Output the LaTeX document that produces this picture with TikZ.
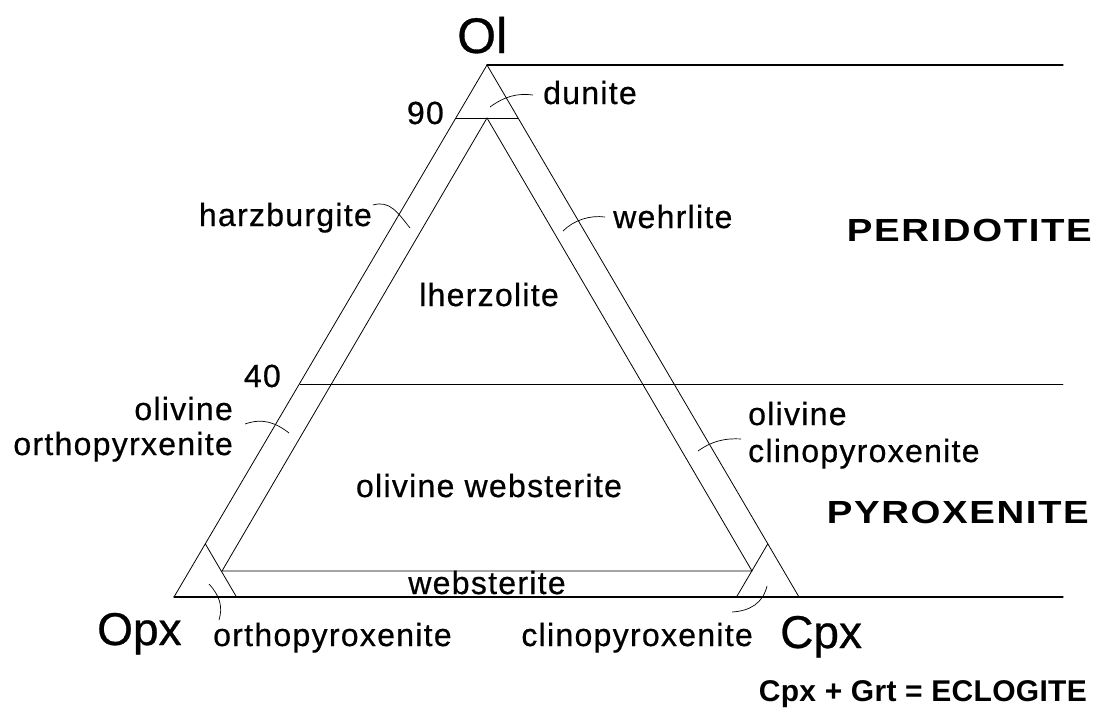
\documentclass[tikz,border=0pt]{standalone}
\usepackage{fontspec}
\setmainfont{Liberation Sans}
\newfontfamily\labfont[LetterSpace=4,FakeBold=0.6]{Liberation Sans}
\newfontfamily\bigfont[FakeBold=0.6]{Liberation Sans}
\newfontfamily\rockfont[LetterSpace=5,FakeStretch=1.2]{Liberation Sans}
\newfontfamily\eclfont[LetterSpace=1]{Liberation Sans}
\tikzset{
  frameline/.style={line width=1.3pt, line cap=round},
  edgeline/.style={line width=0.8pt, line cap=round},
  leader/.style={line width=0.7pt},
  lab/.style={font=\labfont\fontsize{32}{36}\selectfont, inner sep=0pt},
  big/.style={font=\bigfont\fontsize{46}{50}\selectfont, inner sep=0pt},
  bigger/.style={font=\bigfont\fontsize{50}{54}\selectfont, inner sep=0pt},
  rock/.style={font=\rockfont\bfseries\fontsize{32}{36}\selectfont, inner sep=0pt},
  ecltext/.style={font=\eclfont\bfseries\fontsize{30}{36}\selectfont, inner sep=0pt},
}
\begin{document}
\begin{tikzpicture}[x=1pt,y=-1pt]
\fill[white] (0,0) rectangle (1095,720);
\useasboundingbox (0,0) rectangle (1095,720);
% vertices
\coordinate (A) at (487,65);
\coordinate (B) at (174,597);
\coordinate (C) at (799,597);
\coordinate (TR) at (1063,65);
\coordinate (BR) at (1063,597);
\coordinate (L90) at (456,118);
\coordinate (R90) at (518,118);
\coordinate (I) at (487,118);
\coordinate (IL) at (222,571);
\coordinate (IR) at (752,571);
\coordinate (L40) at (300,384);
\coordinate (R40) at (1063,384);
\coordinate (OL1) at (205.3,543.8);
\coordinate (OL2) at (236.5,597);
\coordinate (CR1) at (767.8,543.8);
\coordinate (CR2) at (736.5,597);
% frame
\draw[frameline] (TR) -- (A);
\draw[frameline] (B) -- (BR);
\draw[edgeline] (B) -- (A) -- (C);
\draw[edgeline] (L90) -- (R90);
\draw[edgeline] (IL) -- (I) -- (IR) -- cycle;
\draw[edgeline] (L40) -- (R40);
\draw[edgeline] (OL1) -- (OL2);
\draw[edgeline] (CR1) -- (CR2);
% labels
\node[bigger, anchor=base west] (ol) at (457,53) {Ol};
\node[lab, anchor=base east] (n90) at (444,124) {90};
\node[lab, anchor=base west] (dun) at (543,104) {dunite};
\node[lab, anchor=base east] (harz) at (372,226) {harzburgite};
\node[lab, anchor=base west] (wehr) at (613,228) {wehrlite};
\node[lab, anchor=base] (lherz) at (489,306) {lherzolite};
\node[lab, anchor=base east] (n40) at (281,387) {40};
\node[lab, anchor=base east] (oo1) at (233,420) {olivine};
\node[lab, anchor=base east] (oo2) at (233,455) {orthopyrxenite};
\node[lab, anchor=base west] (oc1) at (748,425) {olivine};
\node[lab, anchor=base west] (oc2) at (748,462) {clinopyroxenite};
\node[lab, anchor=base] (ow) at (489,497) {olivine websterite};
\node[lab, anchor=base] (web) at (487,594) {websterite};
\node[lab, anchor=base west] (opyx) at (213,646) {orthopyroxenite};
\node[lab, anchor=base east] (cpyx) at (753,646) {clinopyroxenite};
\node[big, anchor=base west] (opx) at (97,645) {Opx};
\node[big, anchor=base west] (cpx) at (780,648) {Cpx};
\node[rock, anchor=base east] (per) at (1092,241) {PERIDOTITE};
\node[rock, anchor=base east] (pyr) at (1089,523) {PYROXENITE};
\node[ecltext, anchor=base east] (ecl) at (1087,701) {Cpx + Grt = ECLOGITE};
% leaders
\coordinate (d1) at (490,107); \coordinate (d2) at (533,95);
\draw[leader] (d1) .. controls (505,96) and (518,93) .. (d2);
\coordinate (h1) at (373,205); \coordinate (h2) at (410,228);
\draw[leader] (h1) .. controls (390,200) and (398,213) .. (h2);
\coordinate (w1) at (605,217); \coordinate (w2) at (563,231);
\draw[leader] (w1) .. controls (590,215) and (574,220) .. (w2);
\coordinate (o1) at (245,424); \coordinate (o2) at (289,433);
\draw[leader] (o1) .. controls (262,418) and (275,422) .. (o2);
\coordinate (c1) at (741,439); \coordinate (c2) at (698,451);
\draw[leader] (c1) .. controls (725,438) and (712,441) .. (c2);
\coordinate (p1) at (209,584); \coordinate (p2) at (219,620);
\draw[leader] (p1) .. controls (220,596) and (223,607) .. (p2);
\coordinate (q1) at (767,586); \coordinate (q2) at (732,612);
\draw[leader] (q1) .. controls (763,603) and (750,611) .. (q2);
\end{tikzpicture}
\end{document}
